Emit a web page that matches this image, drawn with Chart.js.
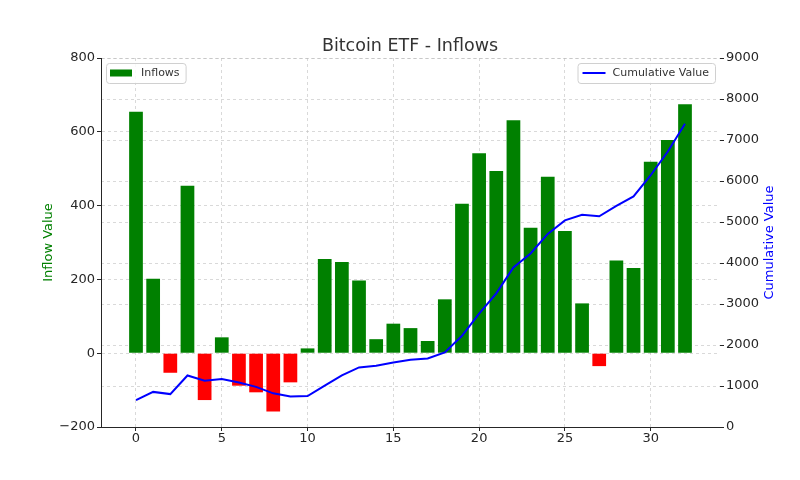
<!DOCTYPE html>
<html>
<head>
<meta charset="utf-8">
<title>Bitcoin ETF - Inflows</title>
<script src="https://cdn.jsdelivr.net/npm/chart.js@4/dist/chart.umd.min.js"></script>
<style>
    html, body { margin: 0; padding: 0; background: #fff; }
    #wrap { width: 800px; height: 480px; }
</style>
</head>
<body>
<div id="wrap"><canvas id="etfChart" width="800" height="480"></canvas></div>
<script>
/* ==========================================================================
   Bitcoin ETF - Inflows: daily inflow bars + cumulative value line
   ========================================================================== */

const days = [0, 1, 2, 3, 4, 5, 6, 7, 8, 9, 10, 11, 12, 13, 14, 15, 16,
              17, 18, 19, 20, 21, 22, 23, 24, 25, 26, 27, 28, 29, 30, 31, 32];

const inflows = [654, 202, -53, 454, -127, 43, -88, -106, -158, -79, 13,
                 255, 247, 197, 38, 80, 68, 33, 146, 405, 542, 494,
                 631, 340, 478, 331, 135, -35, 251, 231, 519, 578, 675];

const cumulative = [654, 856, 803, 1257, 1130, 1173, 1085, 979, 821, 742, 755,
                    1010, 1257, 1454, 1492, 1572, 1640, 1673, 1819, 2224, 2766, 3260,
                    3891, 4231, 4709, 5040, 5175, 5140, 5391, 5622, 6141, 6719, 7394];

const dayTicks        = [0, 5, 10, 15, 20, 25, 30];
const inflowTicks     = [-200, 0, 200, 400, 600, 800];
const cumulativeTicks = [0, 1000, 2000, 3000, 4000, 5000, 6000, 7000, 8000, 9000];

const FONT      = "'DejaVu Sans', sans-serif";
const TEXT      = "#262626";
const GRID      = "rgba(185,185,185,0.55)";
const GREEN     = "#008000";
const RED       = "#ff0000";
const BLUE      = "#0000ff";

function fixedTicks(values) {
    return scale => { scale.ticks = values.map(v => ({ value: v })); };
}

function minusLabel(v) {
    return v < 0 ? "\u2212" + Math.abs(v) : String(v);
}

// --- legend boxes (left: bars, right: line) + right axis title ---
const overlayPlugin = {
    id: "overlay",
    afterDraw(chart) {
        const { ctx, chartArea } = chart;
        const [barSet, lineSet] = [chart.data.datasets[1], chart.data.datasets[0]];
        ctx.save();
        ctx.font = "11px " + FONT;
        ctx.textBaseline = "middle";

        const boxH = 20, top = chartArea.top + 5, midY = top + boxH / 2;

        function drawBox(x, w) {
            ctx.fillStyle = "rgba(255,255,255,0.85)";
            ctx.strokeStyle = "#d0d0d0";
            ctx.lineWidth = 1;
            ctx.beginPath();
            ctx.roundRect(x + 0.5, top + 0.5, w, boxH, 3);
            ctx.fill();
            ctx.stroke();
        }

        // Inflows
        const barText = barSet.label;
        const w1 = 4 + 22 + 9 + ctx.measureText(barText).width + 6;
        const x1 = chartArea.left + 5;
        drawBox(x1, w1);
        ctx.fillStyle = GREEN;
        ctx.fillRect(x1 + 4, midY - 3.5, 22, 7);
        ctx.fillStyle = "#333";
        ctx.textAlign = "left";
        ctx.fillText(barText, x1 + 35, midY + 0.5);

        // Cumulative Value
        const lineText = lineSet.label;
        const w2 = 5 + 23 + 7 + ctx.measureText(lineText).width + 6;
        const x2 = chartArea.right - 5 - w2;
        drawBox(x2, w2);
        ctx.strokeStyle = BLUE;
        ctx.lineWidth = 2;
        ctx.beginPath();
        ctx.moveTo(x2 + 5, midY);
        ctx.lineTo(x2 + 28, midY);
        ctx.stroke();
        ctx.fillStyle = "#333";
        ctx.fillText(lineText, x2 + 35, midY + 0.5);

        // right axis title, reading bottom to top
        ctx.translate(770, (chartArea.top + chartArea.bottom) / 2);
        ctx.rotate(-Math.PI / 2);
        ctx.font = "13px " + FONT;
        ctx.fillStyle = BLUE;
        ctx.textAlign = "center";
        ctx.fillText("Cumulative Value", 0, 0);
        ctx.restore();
    }
};

new Chart(document.getElementById("etfChart"), {
    type: "bar",
    data: {
        datasets: [{
            type: "line",
            label: "Cumulative Value",
            data: days.map((d, i) => ({ x: d, y: cumulative[i] })),
            yAxisID: "y1",
            borderColor: BLUE,
            borderWidth: 2,
            pointRadius: 0,
            tension: 0,
            order: 0
        }, {
            type: "bar",
            label: "Inflows",
            data: days.map((d, i) => ({ x: d, y: inflows[i] })),
            yAxisID: "y",
            backgroundColor: inflows.map(v => (v >= 0 ? GREEN : RED)),
            barPercentage: 0.8,
            categoryPercentage: 1,
            order: 1
        }]
    },
    options: {
        responsive: false,
        animation: false,
        layout: { padding: { left: 20, right: 0, top: 0, bottom: 0 } },
        plugins: {
            legend: { display: false },
            tooltip: { enabled: false },
            title: {
                display: true,
                text: "Bitcoin ETF - Inflows",
                color: "#333",
                font: { family: FONT, size: 17.5, weight: "normal" },
                padding: { top: 36, bottom: 1 }
            }
        },
        scales: {
            x: {
                type: "linear",
                min: -2.04,
                max: 34.04,
                offset: false,
                z: 1,
                afterBuildTicks: fixedTicks(dayTicks),
                afterFit: scale => { scale.height = 53; },
                ticks: { color: TEXT, font: { family: FONT, size: 13 }, padding: 0,
                         maxRotation: 0, autoSkip: false, callback: v => String(v) },
                grid: { offset: false, color: GRID, tickLength: 4, tickColor: TEXT, tickBorderDash: [] },
                border: { color: TEXT, dash: [3, 3] }
            },
            y: {
                position: "left",
                min: -200,
                max: 800,
                z: 1,
                afterBuildTicks: fixedTicks(inflowTicks),
                afterFit: scale => { scale.width = 81; },
                ticks: { color: TEXT, font: { family: FONT, size: 13 }, padding: 2,
                         callback: minusLabel },
                grid: { color: GRID, tickLength: 4, tickColor: TEXT, tickBorderDash: [] },
                border: { color: TEXT, dash: [3, 3] },
                title: {
                    display: true,
                    text: "Inflow Value",
                    color: GREEN,
                    font: { family: FONT, size: 13 },
                    padding: { top: 21, bottom: 0 }
                }
            },
            y1: {
                position: "right",
                min: 0,
                max: 9000,
                z: 1,
                afterBuildTicks: fixedTicks(cumulativeTicks),
                afterFit: scale => { scale.width = 80; },
                ticks: { color: TEXT, font: { family: FONT, size: 13 }, padding: 2,
                         callback: v => String(v) },
                grid: { color: GRID, tickLength: 4, tickColor: TEXT, tickBorderDash: [] },
                border: { display: false, dash: [3, 3] }
            }
        }
    },
    plugins: [overlayPlugin]
});
</script>
</body>
</html>
